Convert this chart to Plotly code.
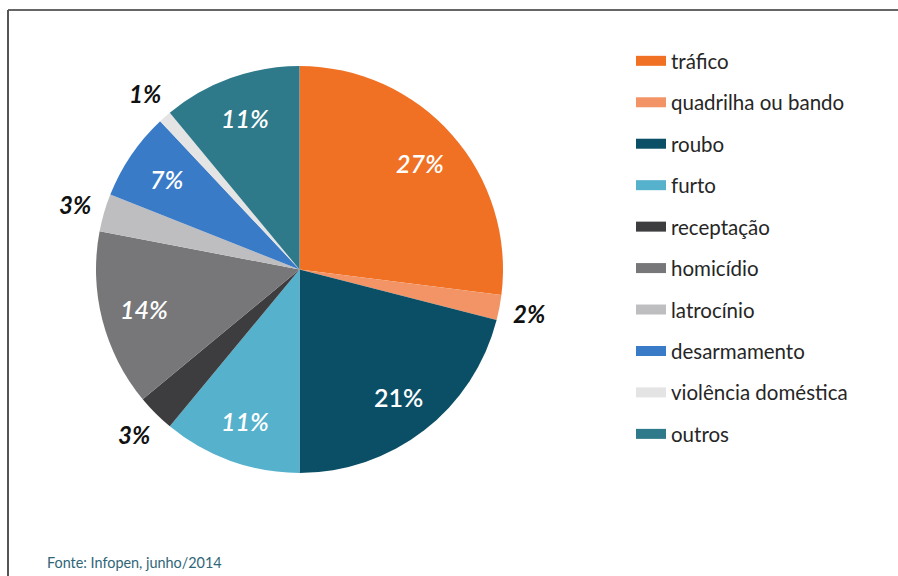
import math
import plotly.graph_objects as go

# Crime categories and their share (%) of the prison population
categories = [
    "tráfico", "quadrilha ou bando", "roubo", "furto", "receptação",
    "homicídio", "latrocínio", "desarmamento", "violência doméstica", "outros",
]
shares = [27, 2, 21, 11, 3, 14, 3, 7, 1, 11]

colors = [
    "#F07124", "#F39466", "#0B4F66", "#55B1CC", "#3D3D3F",
    "#77777A", "#BEBEC0", "#3A7BC8", "#E4E4E4", "#2F7A8A",
]

W, H = 898, 576
FONT = "Lato, 'Open Sans', sans-serif"

# Pie geometry in pixels
CX, CY, R = 299.5, 269.5, 203.5
dom_x = [(CX - R) / W, (CX + R) / W]
dom_y = [1 - (CY + R) / H, 1 - (CY - R) / H]

fig = go.Figure()

fig.add_trace(go.Pie(
    labels=categories,
    values=shares,
    textinfo="none",
    marker=dict(colors=colors, line=dict(width=0)),
    sort=False,
    direction="clockwise",
    rotation=0,
    showlegend=False,
    domain=dict(x=dom_x, y=dom_y),
    hoverinfo="label+percent",
))

# Percentage labels placed at each slice's mid-angle:
# large slices inside in white, small ones just outside in black
annotations = []
total = sum(shares)
cum = 0
for v in shares:
    mid = (cum + v / 2) / total * 2 * math.pi
    cum += v
    small = v <= 3
    r = R * (1.15 if small else 0.79)
    px = CX + r * math.sin(mid)
    py = CY - r * math.cos(mid)
    label = f"{v}%"
    if small:
        font = dict(family=FONT, size=24, color="#111111",
                    weight=700, style="italic")
    else:
        font = dict(family=FONT, size=25, color="white", weight=600,
                    style="normal" if v == 21 else "italic")
    annotations.append(dict(
        text=label, xref="paper", yref="paper",
        x=px / W, y=1 - py / H, xanchor="center", yanchor="middle",
        showarrow=False, font=font,
    ))

annotations.append(dict(
    text="Fonte: Infopen, junho/2014", xref="paper", yref="paper",
    x=45 / W, y=1 - 562 / H, xanchor="left", yanchor="middle",
    showarrow=False, font=dict(family=FONT, size=14.4, color="#2F6678"),
))

# Legend entries, one group per category so the rows are evenly spaced
for name, col in zip(categories, colors):
    fig.add_trace(go.Scatter(
        x=[None], y=[None], mode="lines", name=name,
        legendgroup=name,
        line=dict(color=col, width=10),
        hoverinfo="skip",
    ))

fig.update_layout(
    width=W, height=H,
    margin=dict(l=0, r=0, t=0, b=0),
    paper_bgcolor="white",
    plot_bgcolor="white",
    xaxis=dict(visible=False),
    yaxis=dict(visible=False),
    font=dict(family=FONT, color="#222222"),
    legend=dict(
        x=631 / W, y=1 - 41 / H, xanchor="left", yanchor="top",
        font=dict(family=FONT, size=20.5, color="#262626"),
        tracegroupgap=11.8,
        itemwidth=30,
        bgcolor="rgba(0,0,0,0)",
    ),
    shapes=[
        dict(type="line", xref="paper", yref="paper",
             x0=8 / W, x1=1, y0=1 - 10 / H, y1=1 - 10 / H,
             line=dict(color="#333333", width=1.5)),
        dict(type="line", xref="paper", yref="paper",
             x0=8 / W, x1=8 / W, y0=0, y1=1 - 10 / H,
             line=dict(color="#555555", width=2)),
    ],
    annotations=annotations,
)

fig.write_html("out.html")
